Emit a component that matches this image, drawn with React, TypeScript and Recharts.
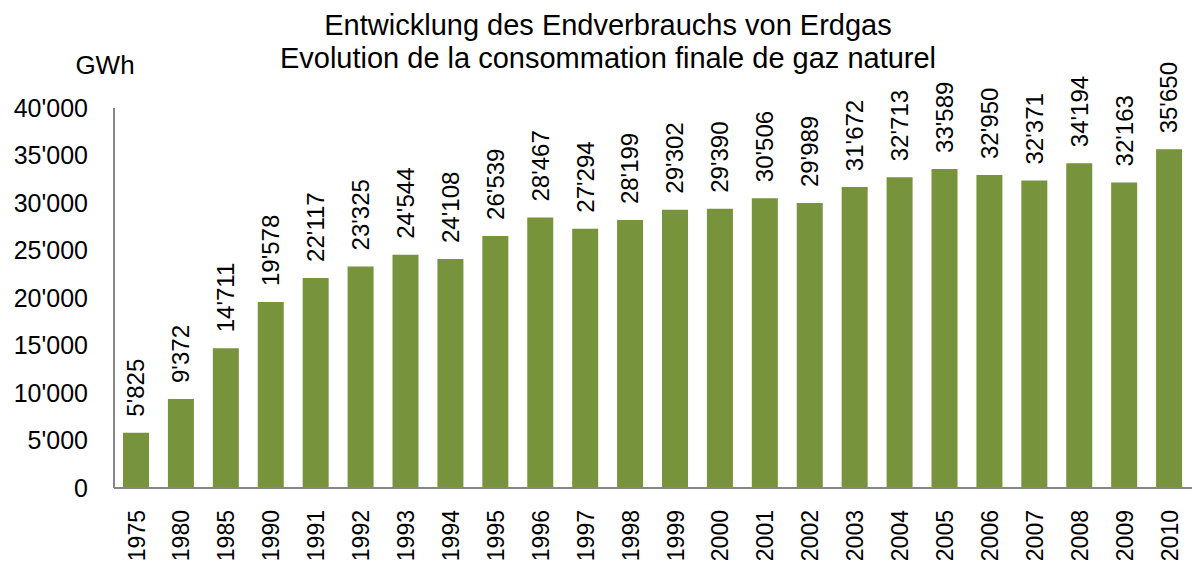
import React from 'react';
import { BarChart, Bar, XAxis, YAxis, LabelList } from 'recharts';

const years = ['1975','1980','1985','1990','1991','1992','1993','1994','1995','1996','1997','1998','1999','2000','2001','2002','2003','2004','2005','2006','2007','2008','2009','2010'];
const consumption = [5825,9372,14711,19578,22117,23325,24544,24108,26539,28467,27294,28199,29302,29390,30506,29989,31672,32713,33589,32950,32371,34194,32163,35650];
const yTicks = [0,5000,10000,15000,20000,25000,30000,35000,40000];
const titleLines = ['Entwicklung des Endverbrauchs von Erdgas','Evolution de la consommation finale de gaz naturel'];
const unitLabel = 'GWh';

const data = years.map((y, i) => ({ year: y, value: consumption[i] }));

const fmt = (v: number) => String(v).replace(/\B(?=(\d{3})+(?!\d))/g, "'");

const FONT = 'Liberation Sans, Arial, sans-serif';

const XTick = (props: any) => {
  const { x, y, payload } = props;
  const ty = y + 14;
  return (
    <text x={x} y={ty} transform={`rotate(-90, ${x}, ${ty})`} textAnchor="end" dy="0.35em" fontSize={23} fontFamily={FONT} fill="#000">
      {payload.value}
    </text>
  );
};

const YTick = (props: any) => {
  const { y, payload } = props;
  return (
    <text x={88} y={y} textAnchor="end" dy="0.35em" fontSize={25} fontFamily={FONT} fill="#000">
      {fmt(payload.value)}
    </text>
  );
};

const ValueLabel = (props: any) => {
  const { x, y, width, value } = props;
  const cx = x + width / 2;
  const cy = y - 16;
  return (
    <text x={cx} y={cy} transform={`rotate(-90, ${cx}, ${cy})`} textAnchor="start" dy="0.35em" fontSize={24} fontFamily={FONT} fill="#000">
      {fmt(value)}
    </text>
  );
};

export default function App() {
  return (
    <div style={{ position: 'absolute', left: 0, top: 0, width: 1196, height: 564, background: '#fff' }}>
      <BarChart width={1196} height={564} data={data} margin={{ top: 108, right: 4, bottom: 0, left: 0 }} barSize={26}>
        <text x={608} y={35} textAnchor="middle" fontSize={29} fontFamily={FONT} fill="#000">{titleLines[0]}</text>
        <text x={608} y={68} textAnchor="middle" fontSize={29} fontFamily={FONT} fill="#000">{titleLines[1]}</text>
        <text x={105} y={74} textAnchor="middle" fontSize={26} fontFamily={FONT} fill="#000">{unitLabel}</text>
        <XAxis dataKey="year" interval={0} tickLine={false} axisLine={{ stroke: '#868686', strokeWidth: 2 }} tick={<XTick />} height={76} />
        <YAxis domain={[0, 40000]} ticks={yTicks} width={114} tickLine={false} axisLine={{ stroke: '#868686', strokeWidth: 2 }} tick={<YTick />} />
        <Bar dataKey="value" fill="#77933C" isAnimationActive={false}>
          <LabelList dataKey="value" content={<ValueLabel />} />
        </Bar>
      </BarChart>
    </div>
  );
}
